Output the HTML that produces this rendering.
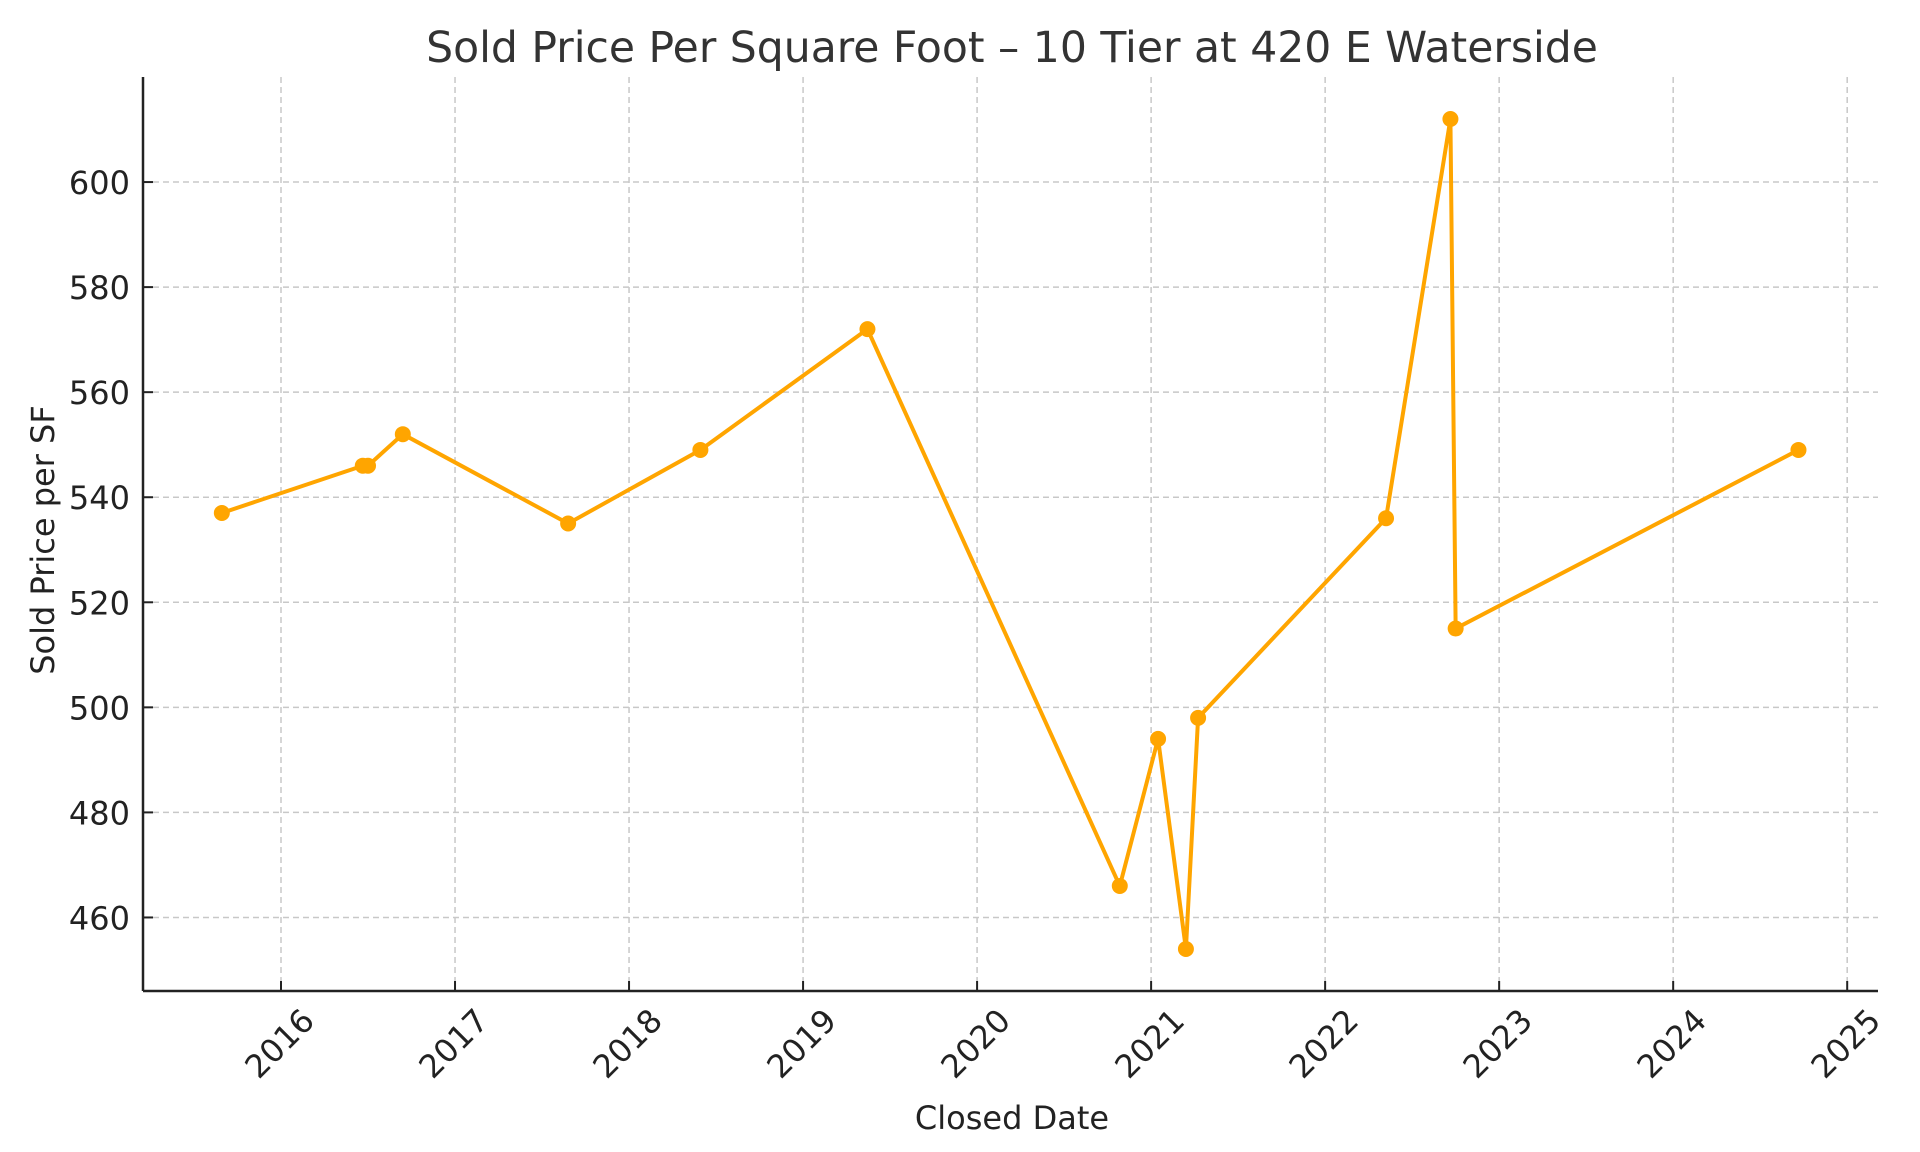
<!DOCTYPE html>
<html><head><meta charset="utf-8"><style>
html,body{margin:0;padding:0;background:#fff}
svg{display:block;font-family:"DejaVu Sans","Liberation Sans",sans-serif}
</style></head><body>
<svg id="chart" width="1920" height="1152" viewBox="0 0 1920 1152" xmlns="http://www.w3.org/2000/svg">
<rect width="1920" height="1152" fill="#fff"/>
<text x="1012" y="62" text-anchor="middle" font-size="42.5" fill="#333">Sold Price Per Square Foot – 10 Tier at 420 E Waterside</text>
<g id="grid"></g>
<g id="axes"></g>
<g id="series"></g>
<text x="1012" y="1129" text-anchor="middle" font-size="32" fill="#222">Closed Date</text>
<text transform="translate(54,540) rotate(-90)" text-anchor="middle" font-size="32" fill="#222">Sold Price per SF</text>
</svg>
<script>
const dates = [2015.66,2016.47,2016.50,2016.70,2017.65,2018.41,2019.37,2020.82,2021.04,2021.20,2021.27,2022.35,2022.72,2022.75,2024.72];
const prices = [537,546,546,552,535,549,572,466,494,454,498,536,612,515,549];
const xTicks = [2016,2017,2018,2019,2020,2021,2022,2023,2024,2025];
const yTicks = [460,480,500,520,540,560,580,600];

const L=143,R=1878,T=77,B=991;
const X0=2015.207,X1=2025.177,Y0=446.0,Y1=620.0;
const xs=v=>L+(v-X0)/(X1-X0)*(R-L);
const ys=v=>B-(v-Y0)/(Y1-Y0)*(B-T);
const NS="http://www.w3.org/2000/svg";
function mk(tag,attrs,parent){const e=document.createElementNS(NS,tag);for(const k in attrs)e.setAttribute(k,attrs[k]);parent.appendChild(e);return e;}
const grid=document.getElementById('grid'),axes=document.getElementById('axes'),series=document.getElementById('series');

xTicks.forEach(t=>{
  const x=xs(t);
  const g=mk('line',{x1:x,x2:x,y1:T,y2:B,stroke:'#c8c8c8','stroke-width':1.5,'stroke-dasharray':'6,4'},grid);
  
  
  const tk=mk('line',{x1:x,x2:x,y1:B,y2:B-10,stroke:'#222','stroke-width':2},axes);
  
  
  const lb=mk('text',{transform:`translate(${x},1045) rotate(-45)`,'text-anchor':'middle','dominant-baseline':'middle','font-size':32,fill:'#222'},axes);
  lb.textContent=t;
  
  
});
yTicks.forEach(t=>{
  const y=ys(t);
  const g=mk('line',{x1:L,x2:R,y1:y,y2:y,stroke:'#c8c8c8','stroke-width':1.5,'stroke-dasharray':'6,4'},grid);
  
  
  const tk=mk('line',{x1:L,x2:L+10,y1:y,y2:y,stroke:'#222','stroke-width':2},axes);
  
  
  const lb=mk('text',{x:130,y:y+12,'text-anchor':'end','font-size':32,fill:'#222'},axes);
  lb.textContent=t;
  
  
});
const xa=mk('line',{x1:L,x2:R,y1:B,y2:B,stroke:'#222','stroke-width':2.5},axes);


const ya=mk('line',{x1:L,x2:L,y1:T,y2:B,stroke:'#222','stroke-width':2.5},axes);



const pts=dates.map((d,i)=>xs(d)+','+ys(prices[i])).join(' ');
const line=mk('polyline',{points:pts,fill:'none',stroke:'#FFA500','stroke-width':4,'stroke-linejoin':'round'},series);


dates.forEach((d,i)=>{
  const c=mk('circle',{cx:xs(d),cy:ys(prices[i]),r:8,fill:'#FFA500'},series);
  
  
});
</script>
</body></html>
